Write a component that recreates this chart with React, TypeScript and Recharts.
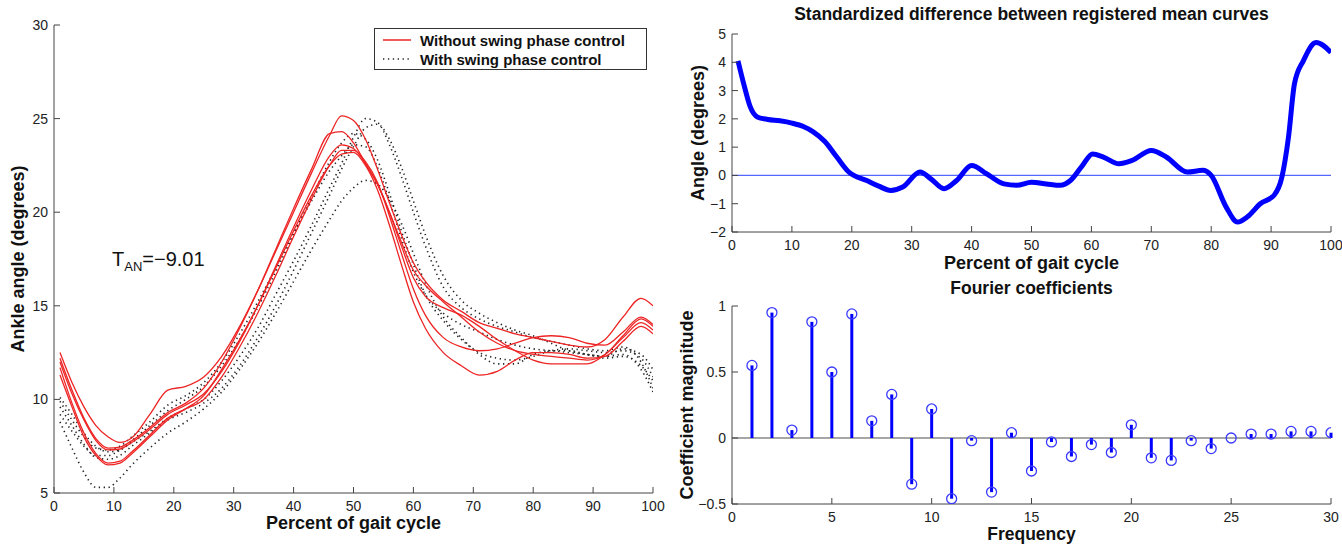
import React from "react";
import {
  LineChart,
  Line,
  XAxis,
  YAxis,
  ReferenceLine,
  ComposedChart,
  Scatter,
} from "recharts";

// ---- ankle angle curves (left panel) ----
const gait = [1, 3, 5, 7, 9, 11, 13, 16, 19, 22, 25, 28, 31, 34, 37, 40, 43, 46, 48, 50, 52, 54, 56, 58, 60, 62, 65, 68, 71, 74, 77, 80, 83, 86, 89, 92, 95, 98, 100];

const without1 = [12.5, 10.9, 9.6, 8.6, 8.0, 7.7, 7.95, 9.2, 10.5, 10.7, 11.2, 12.3, 13.9, 15.8, 17.9, 20.0, 22.1, 24.1, 25.15, 24.9, 23.9, 22.3, 20.5, 18.8, 17.3, 16.3, 15.3, 14.7, 14.1, 13.8, 13.5, 13.3, 13.1, 12.9, 12.8, 13.2, 14.4, 15.4, 15.0];
const without2 = [12.2, 10.5, 9.0, 7.9, 7.4, 7.45, 7.8, 8.5, 9.3, 9.8, 10.6, 12.0, 13.8, 15.8, 18.0, 20.2, 22.3, 24.2, 24.3, 23.7, 22.6, 21.5, 20.0, 18.4, 16.9, 16.1, 15.2, 14.4, 13.6, 13.0, 12.6, 12.4, 12.3, 12.2, 12.1, 12.4, 13.4, 14.3, 13.9];
const without3 = [12.0, 10.3, 8.9, 7.8, 7.3, 7.35, 7.7, 8.4, 9.2, 9.7, 10.3, 11.5, 13.1, 15.0, 17.1, 19.2, 21.2, 23.0, 23.6, 23.4, 22.6, 21.5, 20.0, 18.2, 16.5, 15.5, 14.9, 14.5, 13.9, 13.2, 12.6, 12.1, 11.9, 11.9, 11.9, 12.4, 13.3, 14.1, 13.7];
const without4 = [11.7, 9.8, 8.2, 7.1, 6.6, 6.7, 7.2, 8.1, 9.0, 9.5, 10.0, 11.2, 12.8, 14.6, 16.6, 18.7, 20.7, 22.5, 23.3, 23.3, 22.7, 21.6, 19.8, 17.8, 15.9, 14.5, 13.3, 12.8, 12.6, 12.7, 13.0, 13.3, 13.4, 13.3, 13.0, 12.9, 13.6, 14.4, 14.0];
const without5 = [11.3, 9.6, 8.0, 7.0, 6.5, 6.6, 7.1, 8.0, 8.9, 9.5, 10.2, 11.6, 13.2, 15.0, 17.0, 19.0, 20.9, 22.5, 23.1, 23.2, 22.5, 21.2, 19.3, 17.2, 15.2, 13.8, 12.5, 11.8, 11.3, 11.5, 12.1, 12.5, 12.5, 12.4, 12.2, 12.3, 13.1, 13.9, 13.5];

const with1 = [10.1, 9.2, 8.2, 7.5, 7.2, 7.3, 7.7, 8.3, 9.0, 9.5, 10.0, 11.0, 12.3, 13.8, 15.6, 17.4, 19.3, 21.3, 22.6, 24.0, 25.0, 24.8, 23.6, 21.9, 20.0, 18.2, 16.0, 14.9, 14.3, 13.9, 13.6, 13.3, 13.1, 12.9, 12.7, 12.6, 12.8, 12.0, 10.6];
const with2 = [9.6, 8.6, 7.6, 6.9, 6.8, 7.0, 7.5, 8.2, 8.9, 9.3, 9.8, 10.6, 11.8, 13.3, 15.0, 16.9, 18.9, 20.9, 22.3, 23.5, 24.5, 24.7, 23.9, 22.4, 20.6, 18.8, 16.6, 15.3, 14.6, 14.1, 13.7, 13.4, 13.0, 12.6, 12.4, 12.3, 12.4, 11.6, 10.4];
const with3 = [9.2, 8.3, 7.5, 7.0, 7.0, 7.3, 7.8, 8.6, 9.4, 10.0, 10.7, 11.8, 13.2, 14.9, 16.8, 18.8, 20.8, 22.7, 23.7, 24.2, 23.9, 22.8, 21.0, 19.0, 17.2, 15.6, 14.2, 13.2, 12.5, 12.2, 12.1, 12.3, 12.6, 12.7, 12.6, 12.5, 12.6, 12.2, 11.2];
const with4 = [8.8, 7.4, 6.1, 5.3, 5.3, 5.8, 6.5, 7.4, 8.2, 8.8, 9.5, 10.4, 11.6, 13.0, 14.6, 16.3, 18.0, 19.6, 20.6, 21.3, 21.7, 21.5, 20.7, 19.4, 17.8, 16.2, 14.4, 13.3, 12.4, 11.9, 11.9, 12.4, 12.6, 12.6, 12.4, 12.2, 12.3, 11.8, 11.0];
const with5 = [9.9, 8.9, 8.0, 7.4, 7.3, 7.5, 8.0, 8.8, 9.7, 10.2, 10.9, 12.0, 13.5, 15.2, 17.0, 18.9, 20.6, 22.2, 23.0, 23.6, 23.5, 22.4, 20.6, 18.6, 16.8, 15.6, 14.6, 14.0, 13.6, 13.2, 12.9, 12.7, 12.6, 12.5, 12.4, 12.3, 12.7, 12.4, 11.6];

const withoutCurves = [without1, without2, without3, without4, without5];
const withCurves = [with1, with2, with3, with4, with5];

const gaitTicks = [0, 10, 20, 30, 40, 50, 60, 70, 80, 90, 100];
const angleTicks = [5, 10, 15, 20, 25, 30];

// ---- standardized difference (top right) ----
const diffX = [1, 2, 3, 4.3, 6, 8, 10, 12, 13.5, 15.5, 17.5, 19.5, 22.5, 24.5, 26.5, 28.5, 31.4, 33.2, 35.4, 37.5, 40, 42.5, 45.4, 47.5, 50, 52.5, 54.8, 56.5, 58.5, 60.2, 62, 64.6, 66.8, 70, 72.5, 76, 78.6, 80, 82.5, 84.4, 86, 88.2, 90.5, 91.8, 92.9, 93.9, 95.4, 97.5, 100];
const diffY = [4.05, 3.2, 2.45, 2.06, 1.98, 1.93, 1.85, 1.72, 1.55, 1.2, 0.65, 0.12, -0.18, -0.38, -0.53, -0.41, 0.12, -0.12, -0.47, -0.18, 0.35, 0.06, -0.3, -0.35, -0.24, -0.3, -0.35, -0.18, 0.35, 0.76, 0.65, 0.41, 0.53, 0.88, 0.65, 0.12, 0.18, 0.0, -1.12, -1.65, -1.47, -1.0, -0.7, -0.06, 1.35, 3.24, 4.06, 4.7, 4.35];
const diffTicks = [-2, -1, 0, 1, 2, 3, 4, 5];

// ---- fourier coefficients (bottom right) ----
const freq = [1, 2, 3, 4, 5, 6, 7, 8, 9, 10, 11, 12, 13, 14, 15, 16, 17, 18, 19, 20, 21, 22, 23, 24, 25, 26, 27, 28, 29, 30];
const coef = [0.55, 0.95, 0.06, 0.88, 0.5, 0.94, 0.13, 0.33, -0.35, 0.22, -0.46, -0.02, -0.41, 0.04, -0.25, -0.03, -0.14, -0.05, -0.11, 0.1, -0.15, -0.17, -0.02, -0.08, 0.0, 0.03, 0.03, 0.05, 0.05, 0.04];
const freqTicks = [0, 5, 10, 15, 20, 25, 30];
const coefTicks = [-0.5, 0, 0.5, 1];

const gaitRows = gait.map((x, i) => {
  const row: Record<string, number> = { x };
  withoutCurves.forEach((c, k) => (row["r" + k] = c[i]));
  withCurves.forEach((c, k) => (row["d" + k] = c[i]));
  return row;
});
const diffRows = diffX.map((x, i) => ({ x, v: diffY[i] }));
const coefRows = freq.map((f, i) => ({ f, c: coef[i] }));

const font = '"Liberation Sans", Arial, Helvetica, sans-serif';
const tickStyle = { fontSize: 14, fill: "#222", fontFamily: font };
const axisStroke = "#444";
const redLine = "#ee2424";
const dotted = "1.3 3.6";
const minus = (v: number) => String(v).replace("-", "\u2212");

const titleStyle: React.CSSProperties = {
  position: "absolute",
  textAlign: "center",
  fontWeight: "bold",
  fontSize: 18,
  lineHeight: "22px",
  whiteSpace: "nowrap",
  color: "#111",
};

const vTitle = (text: string, cx: number, cy: number) => (
  <div
    style={{
      ...titleStyle,
      left: cx,
      top: cy,
      transform: "translate(-50%, -50%) rotate(-90deg)",
    }}
  >
    {text}
  </div>
);

const Ring = (p: any) => (
  <circle cx={p.cx} cy={p.cy} r={5} fill="none" stroke="#3a3aff" strokeWidth={1.3} />
);

// MATLAB style box: inward ticks on all four sides
const boxAxes = (
  xTicks: number[],
  xDomain: number[],
  xHeight: number,
  yTicks: number[],
  yDomain: number[],
  yWidth: number,
  xKey: string
) => [
  <XAxis
    key="xb"
    xAxisId="b"
    dataKey={xKey}
    type="number"
    domain={xDomain}
    ticks={xTicks}
    interval={0}
    height={xHeight}
    tickSize={-6}
    tickMargin={14}
    tick={tickStyle}
    stroke={axisStroke}
    allowDataOverflow
  />,
  <XAxis
    key="xt"
    xAxisId="t"
    orientation="top"
    type="number"
    domain={xDomain}
    ticks={xTicks}
    interval={0}
    height={0}
    tickSize={-6}
    tick={false}
    stroke={axisStroke}
  />,
  <YAxis
    key="yl"
    yAxisId="l"
    type="number"
    domain={yDomain}
    ticks={yTicks}
    interval={0}
    width={yWidth}
    tickSize={-6}
    tickMargin={12}
    tick={tickStyle}
    tickFormatter={minus}
    stroke={axisStroke}
    allowDataOverflow
  />,
  <YAxis
    key="yr"
    yAxisId="r"
    orientation="right"
    type="number"
    domain={yDomain}
    ticks={yTicks}
    interval={0}
    width={0}
    tickSize={-6}
    tick={false}
    stroke={axisStroke}
  />,
];

export default function App() {
  return (
    <div
      style={{
        position: "absolute",
        left: 0,
        top: 0,
        width: 1342,
        height: 544,
        background: "#fff",
        fontFamily: font,
        overflow: "hidden",
      }}
    >
      <div style={{ position: "absolute", left: 0, top: 0 }}>
        <LineChart
          width={670}
          height={544}
          data={gaitRows}
          margin={{ top: 25, right: 17, bottom: 0, left: 0 }}
        >
          {boxAxes(gaitTicks, [0, 100], 51, angleTicks, [5, 30], 54, "x")}
          {withCurves.map((_, k) => (
            <Line
              key={"d" + k}
              xAxisId="b"
              yAxisId="l"
              dataKey={"d" + k}
              type="monotone"
              stroke="#222"
              strokeWidth={1.6}
              strokeDasharray={dotted}
              dot={false}
              isAnimationActive={false}
            />
          ))}
          {withoutCurves.map((_, k) => (
            <Line
              key={"r" + k}
              xAxisId="b"
              yAxisId="l"
              dataKey={"r" + k}
              type="monotone"
              stroke={redLine}
              strokeWidth={1.3}
              dot={false}
              isAnimationActive={false}
            />
          ))}
        </LineChart>
      </div>

      <div style={{ position: "absolute", left: 670, top: 0 }}>
        <LineChart
          width={672}
          height={280}
          data={diffRows}
          margin={{ top: 34, right: 11, bottom: 0, left: 0 }}
        >
          {boxAxes(gaitTicks, [0, 100], 48, diffTicks, [-2, 5], 62, "x")}
          <ReferenceLine xAxisId="b" yAxisId="l" y={0} stroke="#5566ff" strokeWidth={1.2} />
          <Line
            xAxisId="b"
            yAxisId="l"
            dataKey="v"
            type="monotone"
            stroke="#0000ff"
            strokeWidth={5}
            dot={false}
            isAnimationActive={false}
          />
        </LineChart>
      </div>

      <div style={{ position: "absolute", left: 670, top: 280 }}>
        <ComposedChart
          width={672}
          height={264}
          data={coefRows}
          margin={{ top: 26, right: 11, bottom: 0, left: 0 }}
        >
          {boxAxes(freqTicks, [0, 30], 40, coefTicks, [-0.5, 1], 62, "f")}
          <ReferenceLine xAxisId="b" yAxisId="l" y={0} stroke="#888" strokeWidth={1.6} />
          {coefRows.map((r) => (
            <ReferenceLine
              key={"s" + r.f}
              xAxisId="b"
              yAxisId="l"
              segment={[
                { x: r.f, y: 0 },
                { x: r.f, y: r.c },
              ]}
              stroke="#0000ff"
              strokeWidth={3}
            />
          ))}
          <Scatter
            xAxisId="b"
            yAxisId="l"
            dataKey="c"
            shape={Ring}
            isAnimationActive={false}
          />
        </ComposedChart>
      </div>

      {/* legend of left panel */}
      <div
        style={{
          position: "absolute",
          left: 374,
          top: 28,
          width: 271,
          height: 40,
          border: "1.5px solid #333",
          background: "#fff",
          fontWeight: "bold",
          fontSize: 15,
          color: "#111",
        }}
      >
        {[
          { label: "Without swing phase control", dash: undefined, color: redLine, top: 2 },
          { label: "With swing phase control", dash: dotted, color: "#222", top: 21 },
        ].map((it) => (
          <div
            key={it.label}
            style={{ position: "absolute", left: 7, top: it.top, height: 18, display: "flex", alignItems: "center" }}
          >
            <svg width={30} height={10} style={{ marginRight: 8 }}>
              <line x1={1} y1={5} x2={29} y2={5} stroke={it.color} strokeWidth={1.5} strokeDasharray={it.dash} />
            </svg>
            <span>{it.label}</span>
          </div>
        ))}
      </div>

      {/* test statistic annotation */}
      <div style={{ position: "absolute", left: 112, top: 248, fontSize: 20, color: "#111", whiteSpace: "nowrap" }}>
        T<sub style={{ fontSize: 13 }}>AN</sub>=−9.01
      </div>

      {/* titles and axis labels */}
      <div style={{ ...titleStyle, left: 732, width: 599, top: 3, fontSize: 17.5 }}>
        Standardized difference between registered mean curves
      </div>
      <div style={{ ...titleStyle, left: 732, width: 599, top: 277, fontSize: 17.5 }}>
        Fourier coefficients
      </div>
      <div style={{ ...titleStyle, left: 54, width: 599, top: 512 }}>Percent of gait cycle</div>
      <div style={{ ...titleStyle, left: 732, width: 599, top: 252 }}>Percent of gait cycle</div>
      <div style={{ ...titleStyle, left: 732, width: 599, top: 525, fontSize: 17.5, lineHeight: "18px" }}>Frequency</div>
      {vTitle("Ankle angle (degrees)", 18, 259)}
      {vTitle("Angle (degrees)", 698, 133)}
      {vTitle("Coefficient magnitude", 687, 405)}
    </div>
  );
}
